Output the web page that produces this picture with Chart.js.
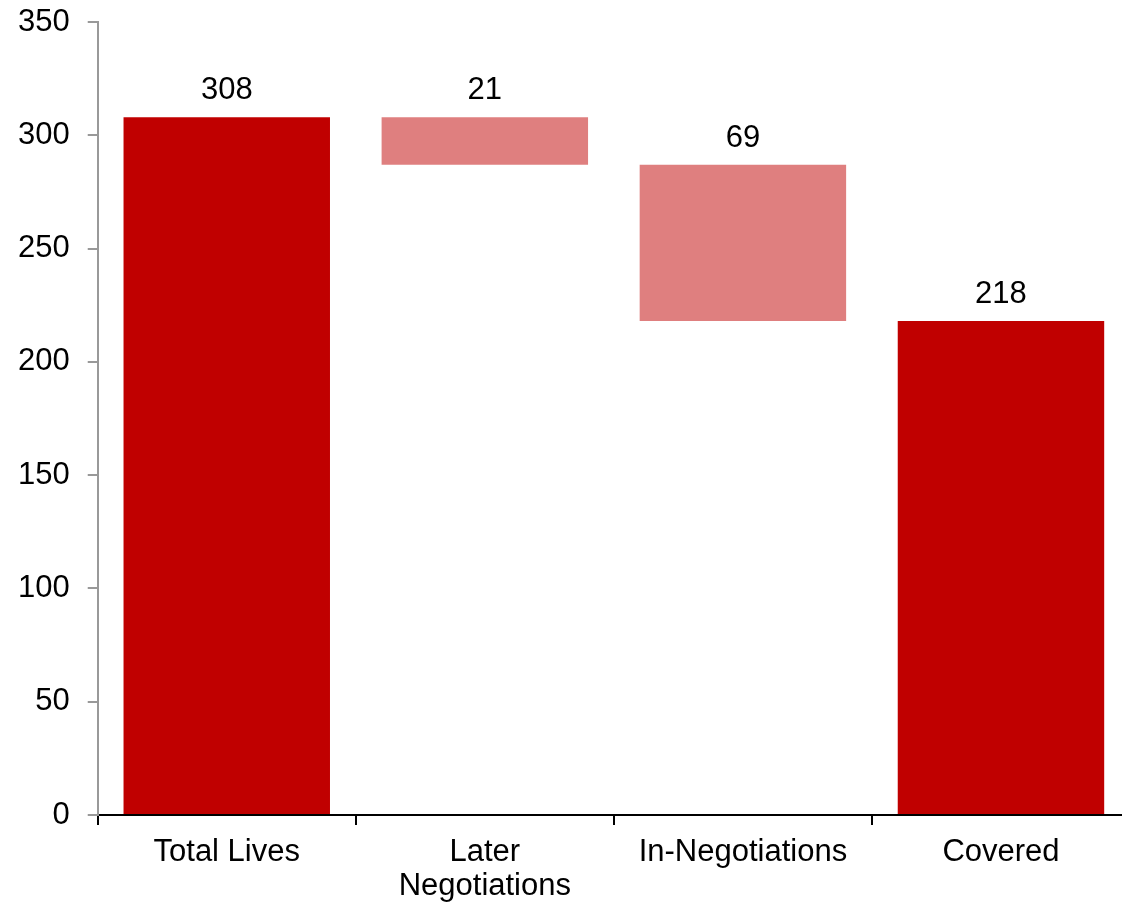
<!DOCTYPE html>
<html>
<head>
<meta charset="utf-8">
<script src="https://cdn.jsdelivr.net/npm/chart.js@4"></script>
<style>
  html, body { margin: 0; padding: 0; background: #fff; overflow: hidden; }
</style>
</head>
<body>
<canvas id="chart" width="1130" height="905"></canvas>
<script>
const categories = ["Total Lives", ["Later", "Negotiations"], "In-Negotiations", "Covered"];
const values = [308, 21, 69, 218];
const isTotal = [true, false, false, true];
const barColors = ["#C00000", "#DF7F7F", "#DF7F7F", "#C00000"];
const yTicks = [0, 50, 100, 150, 200, 250, 300, 350];

// waterfall ranges: totals start at 0, steps hang down from the running level
let level = 0;
const ranges = [];
for (let i = 0; i < values.length; i++) {
  if (isTotal[i]) {
    ranges.push([0, values[i]]);
    level = values[i];
  } else {
    ranges.push([level - values[i], level]);
    level = level - values[i];
  }
}

const font = { family: "Arial, 'Liberation Sans', sans-serif", size: 31, lineHeight: 1.1 };

const valueLabels = {
  id: "valueLabels",
  afterDatasetsDraw(chart) {
    const ctx = chart.ctx;
    const meta = chart.getDatasetMeta(0);
    ctx.save();
    ctx.font = font.size + "px " + font.family;
    ctx.fillStyle = "#000";
    ctx.textAlign = "center";
    ctx.textBaseline = "alphabetic";
    meta.data.forEach((bar, i) => {
      const top = Math.min(bar.y, bar.base);
      ctx.fillText(values[i], bar.x, top - 18);
    });
    ctx.restore();
  }
};

new Chart(document.getElementById("chart"), {
  type: "bar",
  data: {
    labels: categories,
    datasets: [{
      data: ranges,
      backgroundColor: barColors,
      borderWidth: 0,
      barPercentage: 0.8,
      categoryPercentage: 1.0
    }]
  },
  options: {
    responsive: false,
    animation: false,
    layout: { padding: { top: 22, right: 0, left: 0, bottom: 0 } },
    plugins: {
      legend: { display: false },
      tooltip: { enabled: false },
      title: { display: false }
    },
    scales: {
      x: {
        afterFit(axis) { axis.height = 90; },
        grid: {
          offset: true,
          drawOnChartArea: false,
          drawTicks: true,
          tickLength: 10,
          color: "#000",
          lineWidth: 2
        },
        border: { display: true, color: "#000", width: 2 },
        ticks: { color: "#000", font: font, maxRotation: 0, padding: 10 }
      },
      y: {
        min: 0,
        max: 350,
        afterBuildTicks(axis) {
          axis.ticks = yTicks.map(v => ({ value: v }));
        },
        afterFit(axis) { axis.paddingTop = 0; axis.paddingBottom = 0; },
        grid: {
          drawOnChartArea: false,
          drawTicks: true,
          tickLength: 10,
          color: "#999",
          lineWidth: 2
        },
        border: { display: true, color: "#999", width: 2 },
        ticks: { color: "#000", font: font, padding: 18 }
      }
    }
  },
  plugins: [valueLabels]
});
</script>
</body>
</html>
